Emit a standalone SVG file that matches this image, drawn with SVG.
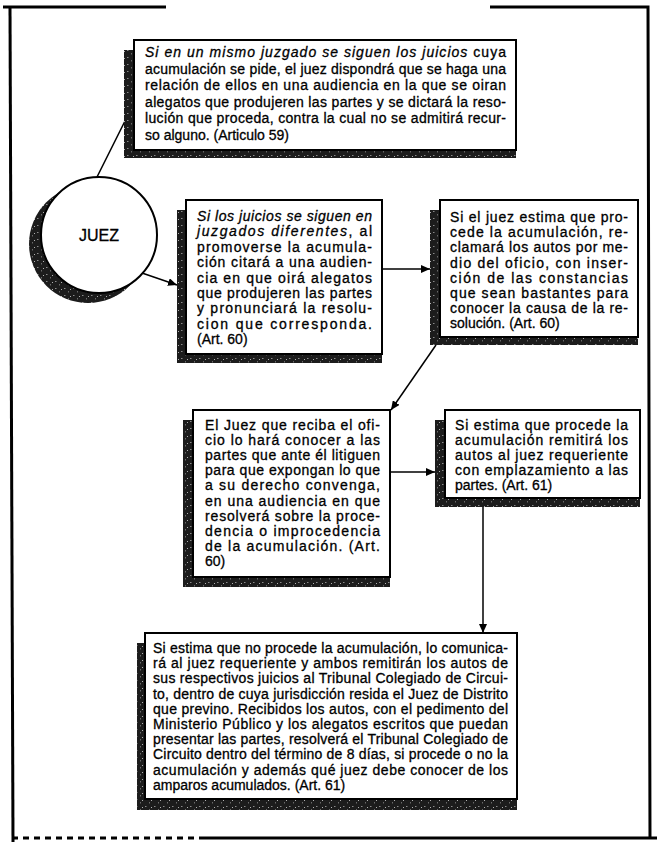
<svg xmlns="http://www.w3.org/2000/svg" width="657" height="842" viewBox="0 0 657 842">
<defs>
<style>
.box{fill:#fff;stroke:#000;stroke-width:2}
.sh{fill:url(#grain)}
.t{font-family:"Liberation Sans",Arial,sans-serif;font-size:14px;fill:#000;stroke:#000;stroke-width:0.3}
.i{font-style:italic}
.conn{stroke:#000;stroke-width:1.5;fill:none}
.frame{stroke:#000;stroke-width:3;fill:none}
</style>
<pattern id="grain" width="9" height="7" patternUnits="userSpaceOnUse">
<rect width="9" height="7" fill="#1c1c1c"/>
<rect x="1" y="1" width="1.5" height="1" fill="#8a8a8a"/>
<rect x="5" y="4" width="1" height="1.5" fill="#6a6a6a"/>
<rect x="7" y="2" width="1" height="1" fill="#b0b0b0"/>
</pattern>
<marker id="ah" markerUnits="userSpaceOnUse" markerWidth="10" markerHeight="8" refX="9" refY="4" orient="auto">
<path d="M0,0 L9,4 L0,8 Z" fill="#000"/>
</marker>
</defs>
<rect width="657" height="842" fill="#fff"/>

<g id="frame">
<path class="frame" d="M3,7 H166"/>
<path class="frame" d="M10,7 L13,842"/>
<path class="frame" d="M490,7 H648 L650,838"/>
<path class="frame" d="M12,838 H205" stroke-dasharray="6,5" stroke-width="1.6"/>
<path class="frame" d="M205,838 H657"/>
</g>

<g id="connectors">
<line class="conn" x1="97" y1="177" x2="126" y2="119"/>
<line class="conn" x1="142" y1="273" x2="177" y2="285" marker-end="url(#ah)"/>
<line class="conn" x1="382" y1="269" x2="430" y2="269" marker-end="url(#ah)"/>
<line class="conn" x1="436" y1="345" x2="391" y2="410" marker-end="url(#ah)"/>
<line class="conn" x1="390" y1="472" x2="435" y2="472" marker-end="url(#ah)"/>
<line class="conn" x1="483" y1="507" x2="483" y2="633" marker-end="url(#ah)"/>
</g>

<g id="juez">
<circle class="sh" cx="88" cy="244" r="59"/>
<circle cx="99" cy="235" r="58" fill="#fff" stroke="#000" stroke-width="2"/>
<text class="t" x="99" y="241" text-anchor="middle" style="font-size:16px">JUEZ</text>
</g>

<g id="box1">
<rect class="sh" x="124" y="50" width="392" height="108"/>
<rect class="box" x="134" y="40" width="382" height="110"/>
<text class="t" x="145" y="57" textLength="361" lengthAdjust="spacing"><tspan class="i">Si en un mismo juzgado se siguen los juicios</tspan> cuya</text>
<text class="t" x="145" y="73.6" textLength="361" lengthAdjust="spacing">acumulación se pide, el juez dispondrá que se haga una</text>
<text class="t" x="145" y="90.2" textLength="361" lengthAdjust="spacing">relación de ellos en una audiencia en la que se oiran</text>
<text class="t" x="145" y="106.8" textLength="361" lengthAdjust="spacing">alegatos que produjeren las partes y se dictará la reso-</text>
<text class="t" x="145" y="123.4" textLength="361" lengthAdjust="spacing">lución que proceda, contra la cual no se admitirá recur-</text>
<text class="t" x="145" y="140">so alguno. (Articulo 59)</text>
</g>

<g id="box2">
<rect class="sh" x="177" y="210" width="205" height="153"/>
<rect class="box" x="186" y="200" width="196" height="154"/>
<text class="t i" x="197" y="221" textLength="175" lengthAdjust="spacing">Si los juicios se siguen en</text>
<text class="t" x="197" y="236.4" textLength="175" lengthAdjust="spacing"><tspan class="i">juzgados diferentes</tspan>, al</text>
<text class="t" x="197" y="251.8" textLength="175" lengthAdjust="spacing">promoverse la acumula-</text>
<text class="t" x="197" y="267.2" textLength="175" lengthAdjust="spacing">ción citará a una audien-</text>
<text class="t" x="197" y="282.6" textLength="175" lengthAdjust="spacing">cia en que oirá alegatos</text>
<text class="t" x="197" y="298" textLength="175" lengthAdjust="spacing">que produjeren las partes</text>
<text class="t" x="197" y="313.4" textLength="175" lengthAdjust="spacing">y pronunciará la resolu-</text>
<text class="t" x="197" y="328.8" textLength="175" lengthAdjust="spacing">cion que corresponda.</text>
<text class="t" x="197" y="344.2">(Art. 60)</text>
</g>

<g id="box3">
<rect class="sh" x="430" y="210" width="208" height="135"/>
<rect class="box" x="440" y="200" width="198" height="137"/>
<text class="t" x="450" y="222" textLength="178" lengthAdjust="spacing">Si el juez estima que pro-</text>
<text class="t" x="450" y="237.2" textLength="178" lengthAdjust="spacing">cede la acumulación, re-</text>
<text class="t" x="450" y="252.4" textLength="178" lengthAdjust="spacing">clamará los autos por me-</text>
<text class="t" x="450" y="267.6" textLength="178" lengthAdjust="spacing">dio del oficio, con inser-</text>
<text class="t" x="450" y="282.8" textLength="178" lengthAdjust="spacing">ción de las constancias</text>
<text class="t" x="450" y="298" textLength="178" lengthAdjust="spacing">que sean bastantes para</text>
<text class="t" x="450" y="313.2" textLength="178" lengthAdjust="spacing">conocer la causa de la re-</text>
<text class="t" x="450" y="328.4">solución. (Art. 60)</text>
</g>

<g id="box4">
<rect class="sh" x="183" y="420" width="207" height="167"/>
<rect class="box" x="193" y="410" width="197" height="167"/>
<text class="t" x="205" y="430" textLength="175" lengthAdjust="spacing">El Juez que reciba el ofi-</text>
<text class="t" x="205" y="445.1" textLength="175" lengthAdjust="spacing">cio lo hará conocer a las</text>
<text class="t" x="205" y="460.2" textLength="175" lengthAdjust="spacing">partes que ante él litiguen</text>
<text class="t" x="205" y="475.3" textLength="175" lengthAdjust="spacing">para que expongan lo que</text>
<text class="t" x="205" y="490.4" textLength="175" lengthAdjust="spacing">a su derecho convenga,</text>
<text class="t" x="205" y="505.5" textLength="175" lengthAdjust="spacing">en una audiencia en que</text>
<text class="t" x="205" y="520.6" textLength="175" lengthAdjust="spacing">resolverá sobre la proce-</text>
<text class="t" x="205" y="535.7" textLength="175" lengthAdjust="spacing">dencia o improcedencia</text>
<text class="t" x="205" y="550.8" textLength="175" lengthAdjust="spacing">de la acumulación. (Art.</text>
<text class="t" x="205" y="565.9">60)</text>
</g>

<g id="box5">
<rect class="sh" x="435" y="420" width="205" height="87"/>
<rect class="box" x="445" y="410" width="195" height="88"/>
<text class="t" x="455" y="430" textLength="173" lengthAdjust="spacing">Si estima que procede la</text>
<text class="t" x="455" y="445" textLength="173" lengthAdjust="spacing">acumulación remitirá los</text>
<text class="t" x="455" y="460" textLength="173" lengthAdjust="spacing">autos al juez requeriente</text>
<text class="t" x="455" y="475" textLength="173" lengthAdjust="spacing">con emplazamiento a las</text>
<text class="t" x="455" y="490">partes. (Art. 61)</text>
</g>

<g id="box6">
<rect class="sh" x="137" y="643" width="380" height="167"/>
<rect class="box" x="145" y="633" width="372" height="166"/>
<text class="t" x="153" y="653" textLength="355" lengthAdjust="spacing">Si estima que no procede la acumulación, lo comunica-</text>
<text class="t" x="153" y="668.2" textLength="355" lengthAdjust="spacing">rá al juez requeriente y ambos remitirán los autos de</text>
<text class="t" x="153" y="683.4" textLength="355" lengthAdjust="spacing">sus respectivos juicios al Tribunal Colegiado de Circui-</text>
<text class="t" x="153" y="698.6" textLength="355" lengthAdjust="spacing">to, dentro de cuya jurisdicción resida el Juez de Distrito</text>
<text class="t" x="153" y="713.8" textLength="355" lengthAdjust="spacing">que previno. Recibidos los autos, con el pedimento del</text>
<text class="t" x="153" y="729" textLength="355" lengthAdjust="spacing">Ministerio Público y los alegatos escritos que puedan</text>
<text class="t" x="153" y="744.2" textLength="355" lengthAdjust="spacing">presentar las partes, resolverá el Tribunal Colegiado de</text>
<text class="t" x="153" y="759.4" textLength="355" lengthAdjust="spacing">Circuito dentro del término de 8 días, si procede o no la</text>
<text class="t" x="153" y="774.6" textLength="355" lengthAdjust="spacing">acumulación y además qué juez debe conocer de los</text>
<text class="t" x="153" y="789.8">amparos acumulados. (Art. 61)</text>
</g>
</svg>
